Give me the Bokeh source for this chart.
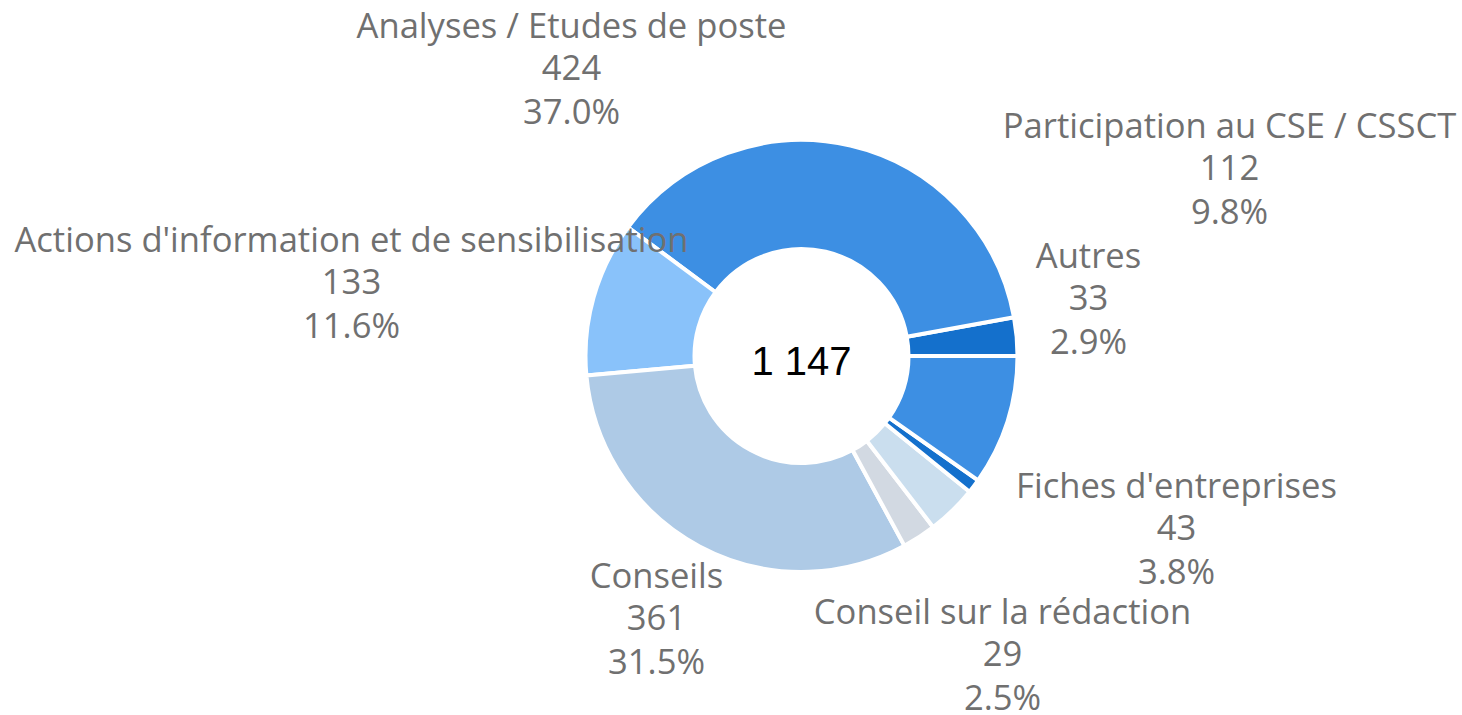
import numpy as np
from bokeh.plotting import figure
from bokeh.models import Range1d, ColumnDataSource
from bokeh.core.properties import value
from bokeh.embed import file_html
from bokeh.resources import INLINE

# ---- data (anticlockwise from 3 o'clock) ----
categories = ["Autres", "Analyses / Etudes de poste", "Actions d'information et de sensibilisation",
              "Conseils", "Conseil sur la rédaction", "Fiches d'entreprises", "",
              "Participation au CSE / CSSCT"]
values = [33, 424, 133, 361, 29, 43, 12, 112]
percents = ["2.9%", "37.0%", "11.6%", "31.5%", "2.5%", "3.8%", "", "9.8%"]
total_label = "1 147"

# ---- styles ----
colors = ["#1470cc", "#3d8fe3", "#89c2fa", "#aecae6", "#d2d9e2", "#cadeee", "#1470cc", "#3d8fe3"]
# label block anchors (centre x, first line y) in picture pixels
label_pos = [(1088, 254), (571, 24), (351, 238), (656, 574), (1002, 610), (1176, 484), None, (1229, 124)]
LINE = 43
CX, CY = 801, 355.5
R_OUT, R_IN = 216, 107

W, H = 1462, 715
p = figure(width=W, height=H, output_backend="svg", toolbar_location=None,
           x_range=Range1d(0, W), y_range=Range1d(-H, 0),
           min_border=0, outline_line_color=None)
p.axis.visible = False
p.grid.visible = False
p.background_fill_color = "white"
p.border_fill_color = "white"

vals = np.array(values, dtype=float)
frac = vals / vals.sum()
ends = np.cumsum(frac) * 2 * np.pi
starts = np.concatenate([[0.0], ends[:-1]])

src = ColumnDataSource(dict(start=starts, end=ends, color=colors))
p.annular_wedge(x=CX, y=-CY, inner_radius=R_IN, outer_radius=R_OUT,
                start_angle="start", end_angle="end", fill_color="color",
                line_color="white", line_width=4, source=src)

tx, ty, tt = [], [], []
for name, v, pc, pos in zip(categories, values, percents, label_pos):
    if pos is None or not name:
        continue
    lines = [name, str(v), pc]
    for i, s in enumerate(lines):
        tx.append(pos[0])
        ty.append(-(pos[1] + i * LINE))
        tt.append(s)

p.text(x=tx, y=ty, text=tt, text_font=value("Open Sans"), text_font_size="34.6px",
       text_color="#707070", text_align="center", text_baseline="alphabetic")

p.text(x=[CX], y=[-360], text=[total_label], text_font=value("Liberation Sans"),
       text_font_size="40px", text_color="black", text_align="center",
       text_baseline="alphabetic")

open("out.html", "w").write(file_html(p, INLINE))
